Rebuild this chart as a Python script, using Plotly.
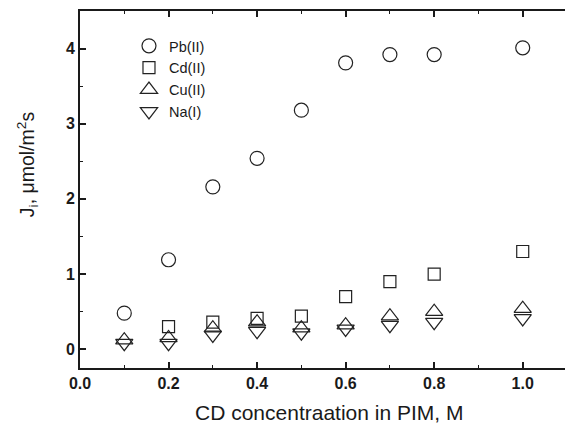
import plotly.graph_objects as go

x_pb = [0.1, 0.2, 0.3, 0.4, 0.5, 0.6, 0.7, 0.8, 1.0]
pb = [0.48, 1.19, 2.16, 2.54, 3.18, 3.81, 3.92, 3.92, 4.01]

x_cd = [0.2, 0.3, 0.4, 0.5, 0.6, 0.7, 0.8, 1.0]
cd = [0.30, 0.36, 0.41, 0.44, 0.70, 0.90, 1.00, 1.30]

x_cu = [0.1, 0.2, 0.3, 0.4, 0.5, 0.6, 0.7, 0.8, 1.0]
cu = [0.12, 0.15, 0.28, 0.36, 0.28, 0.32, 0.44, 0.50, 0.54]

x_na = [0.1, 0.2, 0.3, 0.4, 0.5, 0.6, 0.7, 0.8, 1.0]
na = [0.08, 0.08, 0.19, 0.24, 0.22, 0.27, 0.32, 0.36, 0.41]

names = ["Pb(II)", "Cd(II)", "Cu(II)", "Na(I)"]
xtick_vals = [0.0, 0.2, 0.4, 0.6, 0.8, 1.0]
xtick_text = ["0.0", "0.2", "0.4", "0.6", "0.8", "1.0"]
ytick_vals = [0, 1, 2, 3, 4]
x_title = "CD concentraation in PIM, M"
y_title = "J<sub>i</sub>, \u03bcmol/m<sup>2</sup>s"

line_col = "#222222"
font_fam = "Liberation Sans, Arial"
fig = go.Figure()
specs = [
    (x_pb, pb, "circle-open", 14),
    (x_cd, cd, "square-open", 12),
    (x_cu, cu, "triangle-up-open", 15),
    (x_na, na, "triangle-down-open", 15),
]
for (xs, ys, sym, sz), nm in zip(specs, names):
    fig.add_trace(go.Scatter(
        x=xs, y=ys, mode="markers", name=nm,
        marker=dict(symbol=sym, size=sz, color=line_col,
                    line=dict(width=1.2, color=line_col)),
    ))

axis_common = dict(
    showline=True, linecolor="#1a1a1a", linewidth=2,
    ticks="inside", ticklen=6, tickwidth=2, tickcolor="#1a1a1a",
    showgrid=False, zeroline=False,
    tickfont=dict(family=font_fam, size=16, color="#1a1a1a", weight="bold"),
)
fig.update_xaxes(
    range=[0, 1.0955], tickvals=xtick_vals, ticktext=xtick_text,
    mirror="allticks",
    minor=dict(dtick=0.1, tick0=0, ticks="inside", ticklen=3, tickwidth=1, tickcolor="#1a1a1a"),
    **axis_common,
)
fig.update_yaxes(
    range=[-0.25, 4.5], tickvals=ytick_vals,
    minor=dict(dtick=0.5, tick0=0, ticks="inside", ticklen=3, tickwidth=1, tickcolor="#1a1a1a"),
    **axis_common,
)
fig.add_annotation(
    text=x_title, xref="paper", yref="paper", x=0.513, y=0,
    xanchor="center", yanchor="middle", yshift=-44, showarrow=False,
    font=dict(family=font_fam, size=21, color="#1a1a1a"),
)
fig.add_annotation(
    text=y_title, xref="paper", yref="paper", x=0, y=0.571,
    xanchor="center", yanchor="middle", xshift=-53, textangle=-90, showarrow=False,
    font=dict(family=font_fam, size=19.5, color="#1a1a1a"),
)
fig.update_layout(
    width=565, height=424,
    margin=dict(l=80, r=0, t=11, b=56),
    plot_bgcolor="white", paper_bgcolor="white",
    showlegend=True,
    legend=dict(x=0.101, y=0.947, xanchor="left", yanchor="top",
                bgcolor="rgba(0,0,0,0)", borderwidth=0,
                font=dict(family=font_fam, size=14.5, color="#1a1a1a"),
                itemwidth=30, tracegroupgap=0),
)
fig.write_html("out.html", config={"displayModeBar": False},
               post_script="document.body.style.margin='0';document.body.style.overflow='hidden';")
